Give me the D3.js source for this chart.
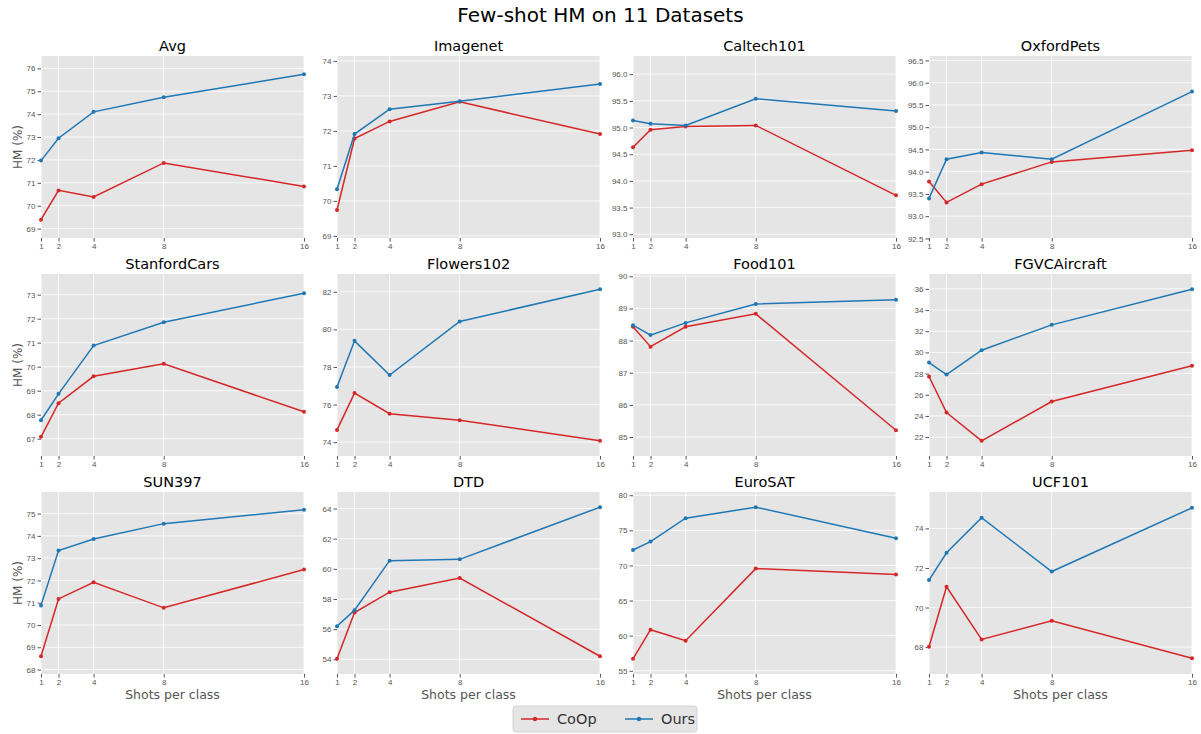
<!DOCTYPE html>
<html>
<head>
<meta charset="utf-8">
<script src="https://cdn.jsdelivr.net/npm/d3@7"></script>
<style>
  body { margin: 0; background: #fff; font-family: "DejaVu Sans", sans-serif; }
  .tick text { fill: #555; font-size: 8px; }
  .tick line { stroke: #555; }
  .domain { display: none; }
</style>
</head>
<body>
<script>
// canvas size
var w = 1201;
var h = 734;

// chart data
var shots = [1, 2, 4, 8, 16];
var datasets = ["Avg", "Imagenet", "Caltech101", "OxfordPets",
                "StanfordCars", "Flowers102", "Food101", "FGVCAircraft",
                "SUN397", "DTD", "EuroSAT", "UCF101"];
var seriesNames = ["CoOp", "Ours"];

var coop = [
  [69.39, 70.67, 70.38, 71.87, 70.84],
  [69.74, 71.78, 72.27, 72.83, 71.91],
  [94.63, 94.96, 95.02, 95.04, 93.73],
  [93.78, 93.31, 93.72, 94.22, 94.48],
  [67.08, 68.48, 69.60, 70.12, 68.12],
  [74.65, 76.61, 75.51, 75.17, 74.07],
  [88.43, 87.81, 88.43, 88.83, 85.21],
  [27.72, 24.32, 21.65, 25.36, 28.73],
  [68.60, 71.17, 71.92, 70.77, 72.49],
  [54.03, 57.10, 58.45, 59.39, 54.20],
  [56.70, 60.85, 59.28, 69.55, 68.70],
  [68.02, 71.05, 68.39, 69.33, 67.44]
];
var ours = [
  [71.97, 72.95, 74.10, 74.74, 75.74],
  [70.33, 71.91, 72.62, 72.85, 73.34],
  [95.13, 95.07, 95.04, 95.54, 95.31],
  [93.40, 94.28, 94.43, 94.28, 95.80],
  [67.77, 68.87, 70.88, 71.85, 73.06],
  [76.94, 79.39, 77.57, 80.42, 82.14],
  [88.48, 88.17, 88.55, 89.14, 89.27],
  [29.04, 27.91, 30.21, 32.60, 35.97],
  [70.88, 73.34, 73.86, 74.55, 75.17],
  [56.19, 57.26, 60.54, 60.63, 64.09],
  [72.20, 73.40, 76.73, 78.30, 73.87],
  [71.39, 72.77, 74.54, 71.82, 75.04]
];

// y tick values for each panel
var yTicks = [
  [69, 70, 71, 72, 73, 74, 75, 76],
  [69, 70, 71, 72, 73, 74],
  [93.0, 93.5, 94.0, 94.5, 95.0, 95.5, 96.0],
  [92.5, 93.0, 93.5, 94.0, 94.5, 95.0, 95.5, 96.0, 96.5],
  [67, 68, 69, 70, 71, 72, 73],
  [74, 76, 78, 80, 82],
  [85, 86, 87, 88, 89, 90],
  [22, 24, 26, 28, 30, 32, 34, 36],
  [68, 69, 70, 71, 72, 73, 74, 75],
  [54, 56, 58, 60, 62, 64],
  [55, 60, 65, 70, 75, 80],
  [68, 70, 72, 74]
];
var yFormat = [",d", ",d", ".1f", ".1f", ",d", ",d", ",d", ",d", ",d", ",d", ",d", ",d"];

var colors = ["#d62728", "#1f77b4"];

// panel layout
var panelW = 263;
var panelH = 182;
var colX = [41, 337, 633, 929];
var rowY = [56, 274, 492];

var svg = d3.select("body").append("svg")
  .attr("width", w)
  .attr("height", h);

// main title
svg.append("text")
  .attr("x", w / 2)
  .attr("y", 22)
  .attr("text-anchor", "middle")
  .style("font-size", "20px")
  .attr("fill", "#000")
  .text("Few-shot HM on 11 Datasets");

function drawPanel(i) {
  var col = i % 4;
  var row = Math.floor(i / 4);
  var g = svg.append("g")
    .attr("transform", "translate(" + colX[col] + "," + rowY[row] + ")");

  var all = coop[i].concat(ours[i]);
  var lo = d3.min(all), hi = d3.max(all);
  var pad = Math.max(0.8, 0.1 * (hi - lo));

  var x = d3.scaleLinear().domain([1, 16]).range([0, panelW]);
  var y = d3.scaleLinear().domain([lo - pad, hi + pad]).range([panelH, 0]);

  // background
  g.append("rect")
    .attr("width", panelW)
    .attr("height", panelH)
    .attr("fill", "#e5e5e5");

  var ticksIn = yTicks[i].filter(function(t) {
    return t >= y.domain()[0] - 0.02 && t <= y.domain()[1] + 0.02;
  });

  // grid
  g.selectAll(".gx").data(shots).enter().append("line")
    .attr("x1", d => x(d)).attr("x2", d => x(d))
    .attr("y1", 0).attr("y2", panelH)
    .attr("stroke", "#fff").attr("stroke-width", 0.8);
  g.selectAll(".gy").data(ticksIn).enter().append("line")
    .attr("x1", 0).attr("x2", panelW)
    .attr("y1", d => y(d)).attr("y2", d => y(d))
    .attr("stroke", "#fff").attr("stroke-width", 0.8);

  // axes
  g.append("g")
    .attr("transform", "translate(0," + panelH + ")")
    .call(d3.axisBottom(x).tickValues(shots).tickSize(3.5).tickPadding(2).tickFormat(d3.format("d")));
  g.append("g")
    .call(d3.axisLeft(y).tickValues(ticksIn).tickSize(3.5).tickPadding(2).tickFormat(d3.format(yFormat[i])));

  // title
  g.append("text")
    .attr("x", panelW / 2)
    .attr("y", -5)
    .attr("text-anchor", "middle")
    .style("font-size", "14.5px")
    .attr("fill", "#000")
    .text(datasets[i]);

  if (col == 0) {
    g.append("text")
      .attr("transform", "rotate(-90)")
      .attr("x", -panelH / 2)
      .attr("y", -19)
      .attr("text-anchor", "middle")
      .style("font-size", "12px")
      .attr("fill", "#555")
      .text("HM (%)");
  }
  if (row == 2) {
    g.append("text")
      .attr("x", panelW / 2)
      .attr("y", panelH + 25)
      .attr("text-anchor", "middle")
      .style("font-size", "12.5px")
      .attr("fill", "#555")
      .text("Shots per class");
  }

  // lines
  var line = d3.line().x((d, j) => x(shots[j])).y(d => y(d));
  [coop[i], ours[i]].forEach(function(vals, s) {
    var clip = g.append("g");
    clip.append("path")
      .datum(vals)
      .attr("d", line)
      .attr("fill", "none")
      .attr("stroke", colors[s])
      .attr("stroke-width", 1.5);
    clip.selectAll("circle").data(vals).enter().append("circle")
      .attr("cx", (d, j) => x(shots[j]))
      .attr("cy", d => y(d))
      .attr("r", 2)
      .attr("fill", colors[s]);
  });
}

for (var i = 0; i < datasets.length; i++) {
  drawPanel(i);
}

// legend
var lg = svg.append("g").attr("transform", "translate(513,706)");
lg.append("rect")
  .attr("width", 184)
  .attr("height", 26)
  .attr("rx", 3)
  .attr("fill", "#e5e5e5")
  .attr("stroke", "#ccc")
  .attr("stroke-width", 0.8);
seriesNames.forEach(function(name, s) {
  var item = lg.append("g").attr("transform", "translate(" + (8 + s * 104) + ",13)");
  item.append("line")
    .attr("x1", 0).attr("x2", 28)
    .attr("stroke", colors[s]).attr("stroke-width", 1.5);
  item.append("circle").attr("cx", 14).attr("r", 2.2).attr("fill", colors[s]);
  item.append("text")
    .attr("x", 36)
    .attr("y", 5)
    .style("font-size", "14.5px")
    .attr("fill", "#333")
    .text(name);
});
</script>
</body>
</html>
